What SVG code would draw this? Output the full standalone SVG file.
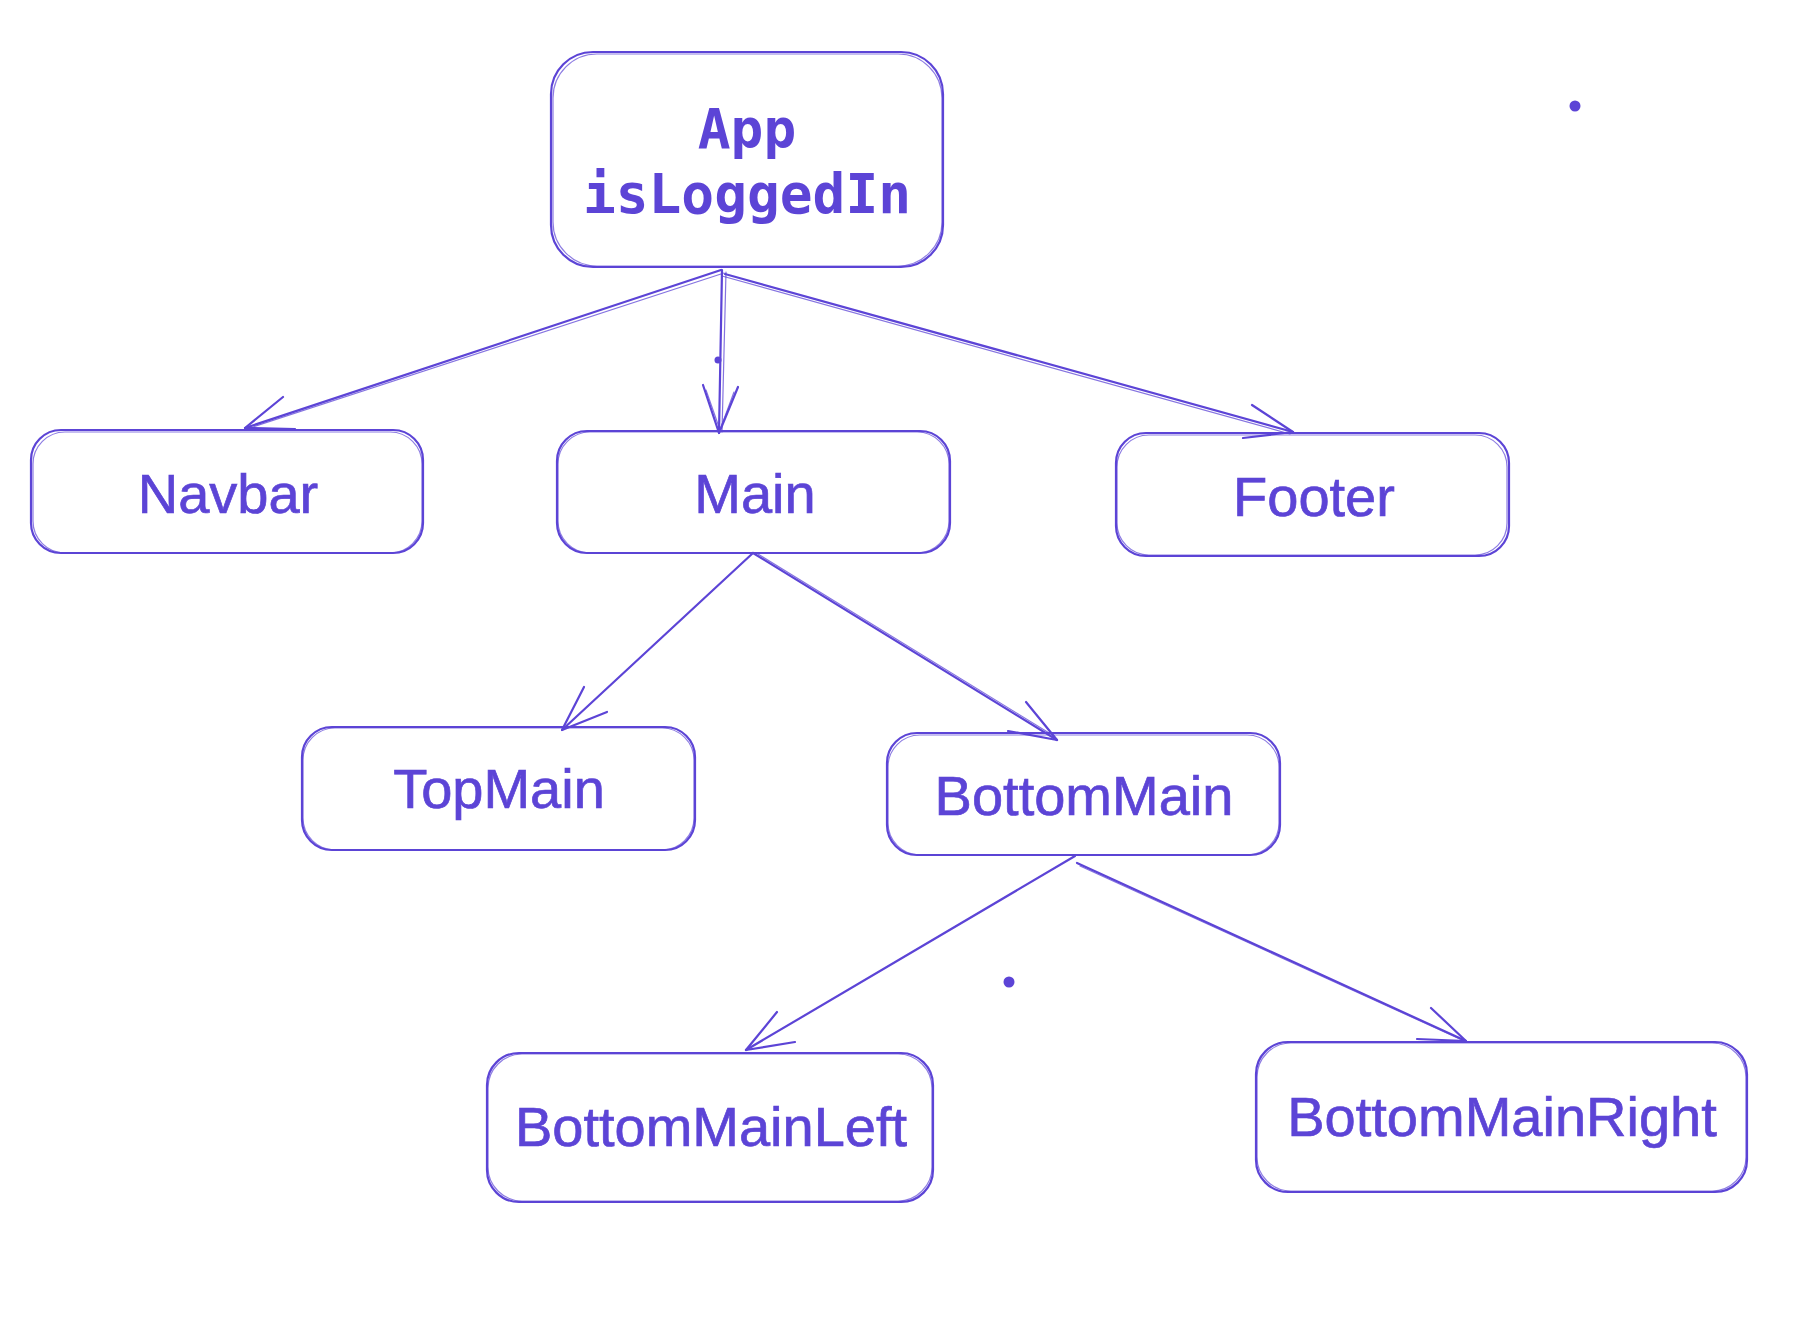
<svg xmlns="http://www.w3.org/2000/svg" width="1806" height="1322" viewBox="0 0 1806 1322">
<style>
.box{fill:none;stroke:#5c44d6;stroke-width:2.2;}
.box2{fill:none;stroke:#5c44d6;stroke-width:1.2;opacity:0.7;}
.lbl{font-family:"Liberation Sans",Arial,sans-serif;font-size:56px;fill:#5c44d6;stroke:#5c44d6;stroke-width:0.7;text-anchor:middle;}
.mono{font-family:"DejaVu Sans Mono","Liberation Mono",monospace;font-weight:bold;font-size:54.5px;fill:#5c44d6;text-anchor:middle;}
.edge{fill:none;stroke:#5c44d6;stroke-width:2.2;stroke-linecap:round;stroke-linejoin:round;}
.edge2{fill:none;stroke:#5c44d6;stroke-width:1.2;opacity:0.75;stroke-linecap:round;}
.dot{fill:#5c44d6;}
</style>
<rect width="1806" height="1322" fill="#ffffff"/>
<g id="connectors">
  <g id="e-app-navbar">
    <path class="edge" d="M721 270 L245 428"/>
    <path class="edge2" d="M724 273 L250 428"/>
    <path class="edge" d="M283 397 L245 428 L295 429"/>
  </g>
  <g id="e-app-main">
    <path class="edge" d="M722 270 L719 433"/>
    <path class="edge2" d="M726 272 L722 432"/>
    <path class="edge" d="M703 385 L719 433 L738 387"/>
    <path class="edge2" d="M706 390 L720 430 L734 392"/>
    <circle class="dot" cx="718" cy="360" r="3.5"/>
  </g>
  <g id="e-app-footer">
    <path class="edge" d="M725 274 L1293 432"/>
    <path class="edge2" d="M722 276 L1290 434"/>
    <path class="edge" d="M1252 405 L1293 432 L1243 438"/>
  </g>
  <g id="e-main-topmain">
    <path class="edge" d="M753 553 L562 730"/>
    <path class="edge" d="M584 687 L562 730 L607 712"/>
  </g>
  <g id="e-main-bottommain">
    <path class="edge" d="M753 553 L1057 740"/>
    <path class="edge2" d="M758 554 L1054 736"/>
    <path class="edge" d="M1026 702 L1057 740 L1008 731"/>
  </g>
  <g id="e-bottommain-left">
    <path class="edge" d="M1075 856 L746 1050"/>
    <path class="edge" d="M777 1012 L746 1050 L795 1042"/>
  </g>
  <g id="e-bottommain-right">
    <path class="edge" d="M1077 863 L1466 1041"/>
    <path class="edge2" d="M1080 866 L1462 1040"/>
    <path class="edge" d="M1431 1008 L1466 1041 L1417 1039"/>
  </g>
</g>
<g id="node-app">
  <rect class="box" x="551" y="52" width="392" height="215" rx="42"/>
  <rect class="box2" x="553" y="54" width="389" height="212" rx="44"/>
  <text class="mono" x="747" y="148">App</text>
  <text class="mono" x="747" y="213">isLoggedIn</text>
</g>
<g id="node-navbar">
  <rect class="box" x="31" y="430" width="392" height="123" rx="30"/>
  <rect class="box2" x="33" y="432" width="389" height="121" rx="32"/>
  <text class="lbl" x="228" y="513">Navbar</text>
</g>
<g id="node-main">
  <rect class="box" x="557" y="431" width="393" height="122" rx="30"/>
  <rect class="box2" x="558" y="432" width="391" height="121" rx="32"/>
  <text class="lbl" x="755" y="513">Main</text>
</g>
<g id="node-footer">
  <rect class="box" x="1116" y="433" width="393" height="123" rx="30"/>
  <rect class="box2" x="1117" y="435" width="390" height="120" rx="32"/>
  <text class="lbl" x="1314" y="516">Footer</text>
</g>
<g id="node-topmain">
  <rect class="box" x="302" y="727" width="393" height="123" rx="30"/>
  <rect class="box2" x="303" y="728" width="391" height="122" rx="32"/>
  <text class="lbl" x="499" y="808">TopMain</text>
</g>
<g id="node-bottommain">
  <rect class="box" x="887" y="733" width="393" height="122" rx="30"/>
  <rect class="box2" x="888" y="735" width="391" height="120" rx="32"/>
  <text class="lbl" x="1084" y="815">BottomMain</text>
</g>
<g id="node-bottommainleft">
  <rect class="box" x="487" y="1053" width="446" height="149" rx="32"/>
  <rect class="box2" x="488" y="1054" width="444" height="147" rx="34"/>
  <text class="lbl" x="711" y="1146">BottomMainLeft</text>
</g>
<g id="node-bottommainright">
  <rect class="box" x="1256" y="1042" width="491" height="150" rx="32"/>
  <rect class="box2" x="1257" y="1043" width="489" height="148" rx="34"/>
  <text class="lbl" x="1502" y="1136">BottomMainRight</text>
</g>
<circle class="dot" cx="1575" cy="106" r="5.5"/>
<circle class="dot" cx="1009" cy="982" r="5.5"/>
</svg>
